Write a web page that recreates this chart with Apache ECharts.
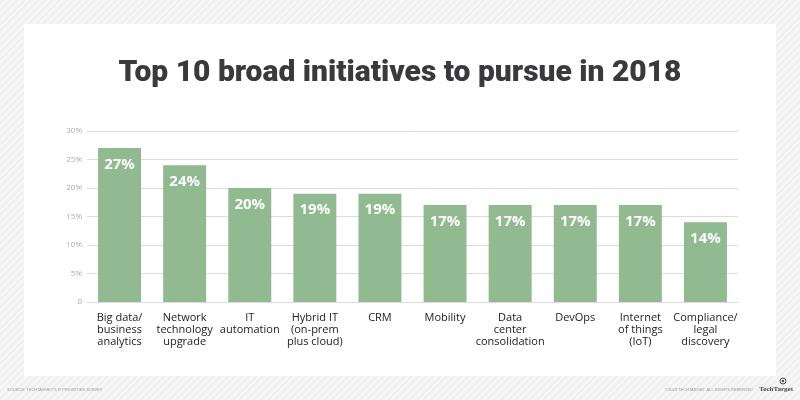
<!DOCTYPE html>
<html>
<head>
<meta charset="utf-8">
<script src="https://cdn.jsdelivr.net/npm/echarts@6/dist/echarts.min.js"></script>
<style>
  html, body { margin: 0; padding: 0; }
  #main {
    width: 800px; height: 400px;
    background: repeating-linear-gradient(-45deg, #f0f0f0 0px, #f0f0f0 2.5px, #f7f7f7 2.5px, #f7f7f7 5px);
  }
</style>
</head>
<body>
<div id="main"></div>
<script>
var categories = [
  'Big data/\nbusiness\nanalytics',
  'Network\ntechnology\nupgrade',
  'IT\nautomation',
  'Hybrid IT\n(on-prem\nplus cloud)',
  'CRM',
  'Mobility',
  'Data\ncenter\nconsolidation',
  'DevOps',
  'Internet\nof things\n(IoT)',
  'Compliance/\nlegal\ndiscovery'
];
var shares = [27, 24, 20, 19, 19, 17, 17, 17, 17, 14];

var myChart = echarts.init(document.getElementById('main'));

var option = {
  backgroundColor: 'transparent',
  title: {
    text: 'Top 10 broad initiatives to pursue in 2018',
    left: 'center',
    top: 53,
    textStyle: {
      fontFamily: 'Roboto',
      fontWeight: 900,
      fontSize: 30,
      color: '#3a3a3c'
    }
  },
  graphic: [
    {
      type: 'rect', z: -10, silent: true,
      shape: {x: 24, y: 24, width: 752, height: 352},
      style: {fill: '#ffffff'}
    },
    {
      type: 'text', left: 7, top: 388,
      style: {text: "SOURCE: TECHTARGET'S IT PRIORITIES SURVEY", fill: '#9a9a9a', font: '4px "Liberation Sans"'}
    },
    {
      type: 'text', right: 47, top: 388,
      style: {text: '\u00a92018 TECHTARGET. ALL RIGHTS RESERVED', fill: '#9a9a9a', font: '4px "Liberation Sans"'}
    },
    {
      type: 'text', right: 7, top: 386,
      style: {text: 'TechTarget', fill: '#4a4a4c', font: 'bold 7px "Liberation Sans Narrow"'}
    },
    {
      type: 'circle', silent: true,
      shape: {cx: 783, cy: 381, r: 3},
      style: {fill: 'none', stroke: '#4a4a4c', lineWidth: 1}
    },
    {
      type: 'circle', silent: true,
      shape: {cx: 783, cy: 381, r: 1.2},
      style: {fill: '#4a4a4c'}
    }
  ],
  grid: {
    left: 87,
    right: 62,
    top: 131,
    bottom: 98
  },
  xAxis: {
    type: 'category',
    data: categories,
    axisTick: {show: false},
    axisLine: {lineStyle: {color: '#dcdcdc', width: 1}},
    axisLabel: {
      interval: 0,
      margin: 10,
      fontFamily: 'Open Sans',
      fontSize: 11,
      lineHeight: 12,
      color: '#222222'
    }
  },
  yAxis: {
    type: 'value',
    min: 0,
    max: 30,
    interval: 5,
    axisLabel: {
      margin: 5,
      fontFamily: 'Open Sans',
      fontSize: 8,
      color: '#aaaaaa',
      formatter: function (v) {
        return v === 0 ? '0' : v + '%';
      }
    },
    splitLine: {lineStyle: {color: '#dcdcdc', width: 1}}
  },
  series: [
    {
      type: 'bar',
      data: shares,
      barWidth: '66%',
      itemStyle: {color: '#91ba91'},
      label: {
        show: true,
        position: 'insideTop',
        distance: 9,
        formatter: '{c}%',
        fontFamily: 'Open Sans',
        fontWeight: 'bold',
        fontSize: 15,
        color: '#ffffff'
      }
    }
  ]
};

myChart.setOption(option);
</script>
</body>
</html>
